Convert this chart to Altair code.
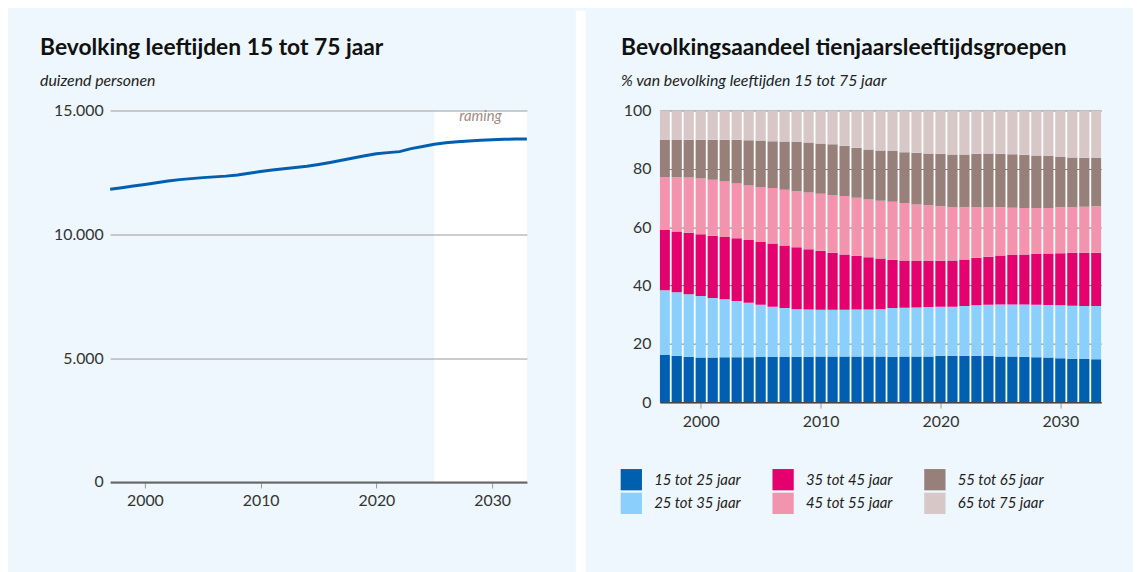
import altair as alt
import pandas as pd

FONT = "Lato"
BG = "#edf7fd"

# ---------------- data ----------------
years = list(range(1997, 2034))

# bevolking 15 tot 75 jaar, duizend personen
population = [11820, 11880, 11950, 12010, 12080, 12150, 12210, 12250, 12290, 12320,
              12350, 12400, 12470, 12540, 12600, 12650, 12700, 12750, 12820, 12900,
              12990, 13080, 13170, 13250, 13300, 13340, 13460, 13550, 13640, 13700,
              13740, 13770, 13800, 13820, 13835, 13845, 13850]

forecast_start = 2025
forecast_end = 2033
forecast_label = "raming"

groups = ["15 tot 25 jaar", "25 tot 35 jaar", "35 tot 45 jaar",
          "45 tot 55 jaar", "55 tot 65 jaar", "65 tot 75 jaar"]
group_colors = ["#005fae", "#8bd0fd", "#e4006d", "#f394ae", "#968079", "#d7c8c7"]

g15 = [16.2, 15.9, 15.6, 15.3, 15.3, 15.4, 15.4, 15.4, 15.5, 15.5,
       15.5, 15.6, 15.6, 15.7, 15.7, 15.7, 15.7, 15.7, 15.7, 15.6,
       15.7, 15.7, 15.7, 15.9, 15.9, 15.9, 15.9, 15.9, 15.7, 15.7,
       15.6, 15.4, 15.3, 15.1, 14.9, 14.8, 14.7]
g25 = [22.2, 21.8, 21.4, 21.1, 20.4, 19.9, 19.3, 18.7, 17.9, 17.2,
       16.8, 16.3, 16.2, 16.0, 16.0, 16.0, 16.1, 16.1, 16.2, 16.7,
       16.7, 16.8, 16.9, 16.8, 16.8, 17.1, 17.3, 17.5, 17.8, 17.8,
       17.9, 18.0, 18.0, 18.1, 18.2, 18.2, 18.3]
g35 = [20.6, 20.8, 21.1, 21.2, 21.4, 21.3, 21.5, 21.5, 21.5, 21.7,
       21.4, 21.2, 20.6, 20.2, 19.5, 18.9, 18.4, 17.9, 17.4, 16.5,
       16.2, 15.9, 15.8, 15.8, 15.9, 15.9, 16.3, 16.5, 16.8, 17.0,
       17.1, 17.4, 17.7, 17.9, 18.1, 18.2, 18.2]
g45 = [18.2, 18.6, 18.9, 19.1, 19.2, 19.1, 18.8, 18.7, 18.9, 19.0,
       19.1, 19.3, 19.5, 19.6, 19.8, 20.1, 19.9, 19.8, 19.8, 19.9,
       19.7, 19.4, 19.1, 18.7, 18.3, 17.9, 17.4, 17.0, 16.5, 16.2,
       16.0, 15.8, 15.6, 15.7, 15.7, 15.8, 16.0]
g55 = [12.7, 12.8, 13.0, 13.3, 13.7, 14.3, 15.0, 15.5, 15.9, 16.1,
       16.6, 16.8, 17.1, 17.2, 17.4, 17.2, 17.1, 17.1, 17.2, 17.4,
       17.4, 17.7, 17.8, 18.0, 18.0, 18.1, 18.3, 18.4, 18.4, 18.3,
       18.2, 18.0, 17.8, 17.3, 17.0, 16.8, 16.5]
g65 = [10.1, 10.1, 10.0, 10.0, 10.0, 10.0, 10.0, 10.2, 10.3, 10.5,
       10.6, 10.8, 11.0, 11.3, 11.6, 12.1, 12.8, 13.4, 13.7, 13.9,
       14.3, 14.5, 14.7, 14.8, 15.1, 15.1, 14.8, 14.7, 14.8, 15.0,
       15.2, 15.4, 15.6, 15.9, 16.1, 16.2, 16.3]

x_ticks = [2000, 2010, 2020, 2030]
y_ticks_left = [0, 5000, 10000, 15000]
y_ticks_right = [0, 20, 40, 60, 80, 100]

# ---------------- tables ----------------
line_df = pd.DataFrame({"jaar": years, "personen": population})
band_df = pd.DataFrame({"start": [forecast_start], "eind": [forecast_end],
                        "lo": [0], "hi": [15000]})
label_df = pd.DataFrame({"jaar": [(forecast_start + forecast_end) / 2],
                         "personen": [15000], "tekst": [forecast_label]})

series = [g15, g25, g35, g45, g55, g65]
rows = []
for gi, (g, vals) in enumerate(zip(groups, series)):
    for yr, v in zip(years, vals):
        rows.append({"jaar": yr, "groep": g, "aandeel": v, "volgorde": gi})
share_df = pd.DataFrame(rows)

# ---------------- left chart ----------------
LW, LH = 420, 374.5
x_scale = alt.Scale(domain=[1997, 2033], nice=False, zero=False)
x_axis_left = alt.Axis(values=x_ticks, format="d", title=None, grid=False,
                       domainColor="#666666", domainWidth=2, tickColor="#999999",
                       tickSize=6, tickWidth=1, labelPadding=5, labelFontSize=16,
                       labelColor="#333333", labelFont=FONT, zindex=1)
y_scale_left = alt.Scale(domain=[0, 15000], nice=False)
y_axis_left = alt.Axis(values=y_ticks_left,
                       labelExpr="datum.value == 0 ? '0' : format(datum.value/1000, 'd') + '.000'",
                       title=None, grid=True, gridColor="#9a9a9a", gridWidth=1,
                       domain=False, ticks=False, labelPadding=7, labelFontSize=16,
                       labelColor="#333333", labelFont=FONT, zindex=1)

band = alt.Chart(band_df).mark_rect(color="white").encode(
    x=alt.X("start:Q", scale=x_scale, axis=x_axis_left),
    x2="eind:Q",
    y=alt.Y("lo:Q", scale=y_scale_left, axis=y_axis_left),
    y2="hi:Q",
)
line = alt.Chart(line_df).mark_line(color="#005fae", strokeWidth=3).encode(
    x=alt.X("jaar:Q", scale=x_scale, axis=x_axis_left),
    y=alt.Y("personen:Q", scale=y_scale_left, axis=y_axis_left),
)
raming = alt.Chart(label_df).mark_text(font=FONT, fontSize=15, fontStyle="italic",
                                       color="#a08c87", baseline="top", dy=-1).encode(
    x=alt.X("jaar:Q", scale=x_scale, axis=x_axis_left),
    y=alt.Y("personen:Q", scale=y_scale_left, axis=y_axis_left),
    text="tekst:N",
)

title_left = alt.TitleParams(
    text="Bevolking leeftijden 15 tot 75 jaar", subtitle="duizend personen",
    anchor="start", frame="group", dx=-70.7, offset=14,
    font=FONT, fontSize=23, fontWeight="bold", color="#111111",
    subtitleFont=FONT, subtitleFontSize=16, subtitleFontStyle="italic",
    subtitleColor="#222222", subtitlePadding=13,
)
left = alt.layer(band, line, raming).properties(width=LW, height=LH, title=title_left)

# ---------------- white gap between panels ----------------
gap = alt.Chart(pd.DataFrame({"d": [0]})).mark_rect(color="white").encode(
    x=alt.value(49.3), x2=alt.value(59.3), y=alt.value(-100.5), y2=alt.value(480)
).properties(width=133.3, height=LH)

# ---------------- right chart ----------------
RW, RH = 445, 294
x_axis_right = alt.Axis(values=x_ticks, format="d", title=None, grid=False,
                        domainColor="#444444", domainWidth=1.5, tickColor="#999999",
                        tickSize=6, tickWidth=1, labelPadding=6, labelFontSize=16,
                        labelColor="#333333", labelFont=FONT)
y_axis_right = alt.Axis(values=y_ticks_right, title=None, grid=True, gridColor="#777777",
                        gridWidth=1, domain=False, ticks=False, labelPadding=9,
                        labelFontSize=16, labelColor="#333333", labelFont=FONT)

title_right = alt.TitleParams(
    text="Bevolkingsaandeel tienjaarsleeftijdsgroepen",
    subtitle="% van bevolking leeftijden 15 tot 75 jaar",
    anchor="start", frame="group", dx=-39, offset=14,
    font=FONT, fontSize=23, fontWeight="bold", color="#111111",
    subtitleFont=FONT, subtitleFontSize=16, subtitleFontStyle="italic",
    subtitleColor="#222222", subtitlePadding=13,
)

# legend belongs to the concat level: position relative to the left plot origin
right = alt.Chart(share_df).mark_bar(width=10.3, clip=True).encode(
    x=alt.X("jaar:Q", scale=x_scale, axis=x_axis_right),
    y=alt.Y("aandeel:Q", stack="zero", scale=alt.Scale(domain=[0, 100], nice=False),
            axis=y_axis_right),
    color=alt.Color("groep:N",
                    scale=alt.Scale(domain=groups, range=group_colors),
                    legend=alt.Legend(title=None, orient="none", legendX=514.3, legendY=361,
                                      columns=3, direction="vertical",
                                      symbolType="square", symbolSize=460,
                                      symbolStrokeWidth=0, symbolOpacity=1,
                                      labelFont=FONT, labelFontSize=15,
                                      labelFontStyle="italic", labelColor="#222222",
                                      labelOffset=12, rowPadding=2, columnPadding=31)),
    order=alt.Order("volgorde:Q"),
).properties(width=RW, height=RH, title=title_right,
             view=alt.ViewBackground(fill="white", stroke=None))

chart = alt.hconcat(left, gap, right, spacing=0, bounds="flush").properties(
    background=BG,
    padding={"left": 32, "top": 0, "right": 32, "bottom": 0},
).configure(font=FONT).configure_view(stroke=None)

chart.save("out.html", embed_options={"renderer": "svg", "actions": False})
